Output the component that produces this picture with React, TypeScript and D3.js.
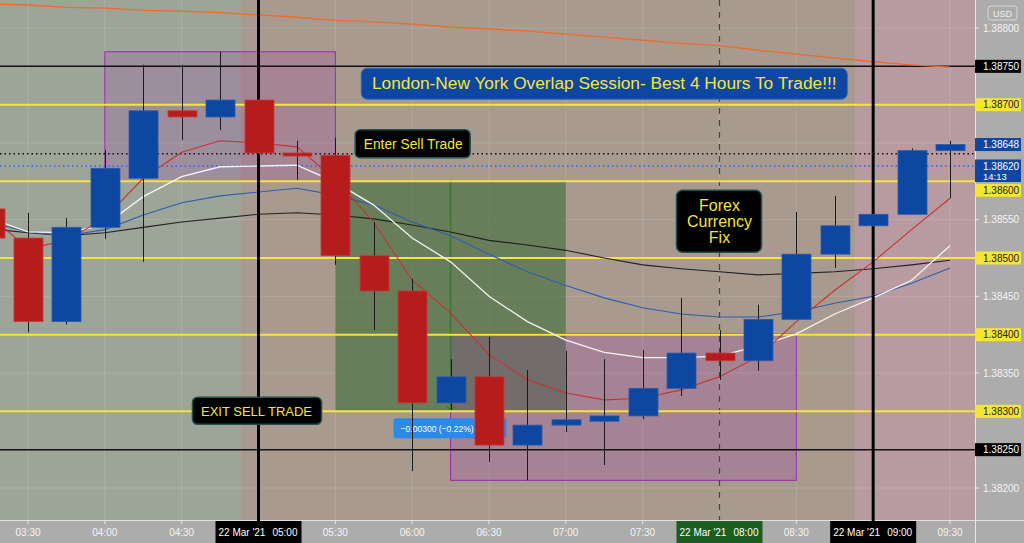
import React from 'react';
import * as d3 from 'd3';

// ---------- DATA ----------
const times = ["03:15","03:30","03:45","04:00","04:15","04:30","04:45","05:00","05:15","05:30","05:45","06:00","06:15","06:30","06:45","07:00","07:15","07:30","07:45","08:00","08:15","08:30","08:45","09:00","09:15","09:30"];
const opens  = [1.38564,1.38526,1.38417,1.38540,1.38604,1.38692,1.38684,1.38706,1.38637,1.38634,1.38503,1.38457,1.38311,1.38345,1.38256,1.38282,1.38287,1.38294,1.38330,1.38376,1.38366,1.38420,1.38505,1.38542,1.38557,1.38640];
const highs  = [1.38576,1.38559,1.38552,1.38641,1.38752,1.38752,1.38769,1.38709,1.38653,1.38657,1.38547,1.38473,1.38368,1.38397,1.38354,1.38379,1.38368,1.38380,1.38448,1.38406,1.38439,1.38560,1.38581,1.38558,1.38643,1.38653];
const lows   = [1.38521,1.38403,1.38413,1.38525,1.38495,1.38654,1.38667,1.38634,1.38602,1.38491,1.38406,1.38222,1.38302,1.38234,1.38210,1.38273,1.38230,1.38290,1.38320,1.38341,1.38353,1.38420,1.38487,1.38540,1.38557,1.38578];
const closes = [1.38526,1.38417,1.38540,1.38617,1.38692,1.38684,1.38706,1.38637,1.38633,1.38503,1.38457,1.38311,1.38345,1.38256,1.38282,1.38289,1.38294,1.38330,1.38376,1.38366,1.38420,1.38505,1.38542,1.38557,1.38640,1.38648];

const maOrange = [1.38831,1.38830,1.38827,1.38826,1.38823,1.38822,1.38820,1.38817,1.38814,1.38810,1.38808,1.38805,1.38801,1.38799,1.38796,1.38792,1.38788,1.38784,1.38780,1.38777,1.38771,1.38766,1.38761,1.38756,1.38752,1.38749];
const maBlack  = [1.38538,1.38533,1.38529,1.38533,1.38540,1.38547,1.38552,1.38557,1.38559,1.38556,1.38551,1.38543,1.38534,1.38523,1.38517,1.38510,1.38500,1.38491,1.38486,1.38482,1.38478,1.38480,1.38482,1.38486,1.38491,1.38497];
const maBlue   = [1.38547,1.38534,1.38529,1.38537,1.38556,1.38572,1.38581,1.38586,1.38591,1.38582,1.38569,1.38547,1.38529,1.38505,1.38482,1.38464,1.38448,1.38435,1.38427,1.38423,1.38423,1.38430,1.38441,1.38450,1.38467,1.38487];
const maWhite  = [1.38552,1.38534,1.38533,1.38543,1.38580,1.38606,1.38619,1.38620,1.38621,1.38599,1.38569,1.38526,1.38495,1.38450,1.38417,1.38393,1.38377,1.38370,1.38370,1.38372,1.38385,1.38401,1.38427,1.38448,1.38471,1.38516];
const maRed    = [1.38556,1.38512,1.38523,1.38552,1.38604,1.38638,1.38653,1.38650,1.38645,1.38602,1.38547,1.38471,1.38428,1.38374,1.38341,1.38324,1.38315,1.38317,1.38328,1.38345,1.38371,1.38417,1.38458,1.38495,1.38537,1.38578];

const priceTicks = [1.382,1.3825,1.383,1.3835,1.384,1.3845,1.385,1.3855,1.386,1.3865,1.387,1.3875,1.388];
const timeTicks = ["03:30","04:00","04:30","05:00","05:30","06:00","06:30","07:00","07:30","08:00","08:30","09:00","09:30"];
const dateTagTimes = ["05:00","08:00","09:00"];
const dateLabel = "22 Mar '21";

const yellowLevels = [1.387,1.386,1.385,1.384,1.383];
const blackLevels = [1.3875,1.3825];
const lastPrice = 1.38648;
const bidPrice = 1.38620;
const refPrice = 1.38636;
const countdown = "14:13";

const sessionStarts = ["03:00","04:53","08:53"];
const sessionEnds = ["04:53","08:53","09:50"];

const zoneStart = ["04:00","05:30","06:15"];
const zoneEnd = ["05:30","07:00","08:30"];
const zoneTop = [1.38769,1.38600,1.38401];
const zoneBottom = [1.38600,1.38300,1.38210];

const bannerText = "London-New York Overlap Session- Best 4 Hours To Trade!!!";
const enterText = "Enter Sell Trade";
const fixLines = ["Forex","Currency","Fix"];
const exitText = "EXIT SELL TRADE";
const measureText = "\u22120.00300 (\u22120.22%)";

// ---------- LAYOUT ----------
const W = 1024, H = 543, PW = 975, PH = 520;
const toMin = (s: string) => { const [h, m] = s.split(":").map(Number); return h * 60 + m; };

export default function App() {
  const x = d3.scaleLinear().domain([toMin("03:30"), toMin("09:30")]).range([28, 950]);
  const y = d3.scaleLinear().domain([1.382, 1.388]).range([488, 28]);
  const xt = (s: string) => x(toMin(s));
  const bw = 29;
  const font = "'Liberation Sans', Arial, sans-serif";
  const sessColors = ["#9da598", "#a89a8e", "#b89ba0"];
  const zoneFill = ["rgba(156,39,176,0.18)", "rgba(40,95,35,0.5)", "rgba(156,39,176,0.2)"];
  const zoneStroke = ["#9c27b0", "none", "#9c27b0"];
  const tagged = [...yellowLevels, ...blackLevels, 1.3865];

  const line = (vals: number[]) =>
    d3.line<number>().x((_, i) => xt(times[i])).y(v => y(v))(vals) || "";

  const tag = (v: number, bg: string, fg: string, text: string, dy = 0) => {
    const cy = y(v) + dy;
    return (
      <g key={"tag" + v + text}>
        <line x1={PW} x2={PW + 4} y1={cy} y2={cy} stroke={fg} />
        <rect x={PW} y={cy - 6.5} width={46} height={13} fill={bg} />
        <text x={983} y={cy + 3.5} fontSize={10} fill={fg} fontFamily={font}>{text}</text>
      </g>
    );
  };

  return (
    <svg width={W} height={H} style={{ position: 'fixed', left: 0, top: 0, display: 'block' }}>
      <defs>
        <clipPath id="plot"><rect x={0} y={0} width={PW} height={PH} /></clipPath>
      </defs>
      <rect x={0} y={0} width={W} height={H} fill="#acacac" />
      <g clipPath="url(#plot)">
        {sessionStarts.map((s, i) => (
          <rect key={"s" + i} x={xt(s)} y={0} width={xt(sessionEnds[i]) - xt(s)} height={PH} fill={sessColors[i]} />
        ))}
        {/* grid */}
        {timeTicks.map(t => (
          <line key={"gx" + t} x1={xt(t)} x2={xt(t)} y1={0} y2={PH} stroke="rgba(255,255,255,0.13)" />
        ))}
        {priceTicks.map(p => (
          <line key={"gy" + p} x1={0} x2={PW} y1={y(p)} y2={y(p)} stroke="rgba(255,255,255,0.13)" />
        ))}
        {/* zones */}
        {zoneStart.map((s, i) => (
          <rect key={"z" + i} x={xt(s)} y={y(zoneTop[i])} width={xt(zoneEnd[i]) - xt(s)} height={y(zoneBottom[i]) - y(zoneTop[i])}
            fill={zoneFill[i]} stroke={zoneStroke[i]} strokeWidth={1} />
        ))}
        {/* measure vertical line */}
        <line x1={xt("06:15")} x2={xt("06:15")} y1={y(1.386)} y2={y(1.383)} stroke="rgba(50,120,40,0.85)" strokeWidth={1.5} />
        <path d={`M${xt("06:15") - 4},${y(1.383) - 5} L${xt("06:15")},${y(1.383) - 1} L${xt("06:15") + 4},${y(1.383) - 5}`} fill="none" stroke="rgba(50,120,40,0.9)" strokeWidth={1.2} />
        {/* vertical lines */}
        <line x1={xt("08:00")} x2={xt("08:00")} y1={0} y2={PH} stroke="#1e5e22" strokeWidth={1.2} strokeDasharray="6,6" />
        {/* levels */}
        {yellowLevels.map(p => (
          <line key={"yl" + p} x1={0} x2={PW} y1={y(p)} y2={y(p)} stroke="#f5e43a" strokeWidth={2} />
        ))}
        {blackLevels.map(p => (
          <line key={"bl" + p} x1={0} x2={PW} y1={y(p)} y2={y(p)} stroke="#111" strokeWidth={1.5} />
        ))}
        <line x1={0} x2={PW} y1={y(refPrice)} y2={y(refPrice)} stroke="#111" strokeWidth={1.5} strokeDasharray="1.5,3" />
        <line x1={0} x2={PW} y1={y(bidPrice)} y2={y(bidPrice)} stroke="#2962ff" strokeWidth={1.5} strokeDasharray="1.5,3" />
        {/* MAs */}
        <path d={line(maOrange)} fill="none" stroke="#f06a28" strokeWidth={1.3} />
        <path d={line(maBlack)} fill="none" stroke="#222" strokeWidth={1.1} />
        <path d={line(maBlue)} fill="none" stroke="#2d5fae" strokeWidth={1.1} />
        <path d={line(maWhite)} fill="none" stroke="#f4f4f4" strokeWidth={1.3} />
        <path d={line(maRed)} fill="none" stroke="#c83232" strokeWidth={1.1} />
        {/* thick verticals */}
        {["05:00", "09:00"].map(t => (
          <line key={"v" + t} x1={xt(t)} x2={xt(t)} y1={0} y2={PH} stroke="#000" strokeWidth={3} />
        ))}
        {/* measure label (under candles) */}
        <g>
          <rect x={xt("06:15") - 57} y={y(1.38278) - 10} width={113} height={20} rx={3} fill="#2b8ae6" />
          <text x={xt("06:15") - 50} y={y(1.38278) + 3.5} fontSize={9.5} fill="#fff" fontFamily={font}
            textLength={73} lengthAdjust="spacingAndGlyphs">{measureText}</text>
        </g>
        {/* candles */}
        {times.map((t, i) => {
          const cx = Math.round(xt(t)) + 0.5;
          const up = closes[i] >= opens[i];
          const top = y(Math.max(opens[i], closes[i]));
          const bot = y(Math.min(opens[i], closes[i]));
          return (
            <g key={"c" + t}>
              <line x1={cx} x2={cx} y1={y(highs[i])} y2={y(lows[i])} stroke="#1a1a1a" strokeWidth={1} />
              <rect x={cx - bw / 2} y={top} width={bw} height={Math.max(2, bot - top)}
                fill={up ? "#0d47a1" : "#b71c1c"} stroke={up ? "#2a5db0" : "#c43a3a"} strokeWidth={0.8} />
            </g>
          );
        })}
        {/* annotations */}
        <g>
          <rect x={xt("07:15") - 243} y={y(1.38728) - 15} width={486} height={31} rx={6} fill="#0d47a1" stroke="#2a6bc0" />
          <text x={xt("07:15")} y={y(1.38728) + 6} textAnchor="middle" fontSize={17.3} fill="#f5e43a" fontFamily={font}>{bannerText}</text>
        </g>
        <g>
          <rect x={xt("06:00") - 57} y={y(1.38649) - 14} width={115} height={28} rx={5} fill="#000" stroke="#1d5050" strokeWidth={1.5} />
          <text x={xt("06:00") + 1} y={y(1.38649) + 5} textAnchor="middle" fontSize={13.8} fill="#f5e43a" fontFamily={font}>{enterText}</text>
        </g>
        <g>
          <rect x={xt("08:00") - 43} y={y(1.38548) - 31} width={85} height={62} rx={6} fill="#000" stroke="#1d5050" strokeWidth={1.5} />
          {fixLines.map((l, i) => (
            <text key={l} x={xt("08:00")} y={y(1.38548) - 10 + i * 16} textAnchor="middle" fontSize={16} fill="#f5e43a" fontFamily={font}>{l}</text>
          ))}
        </g>
        <g>
          <rect x={xt("05:00") - 66} y={y(1.383) - 14} width={129} height={27} rx={5} fill="#000" stroke="#1d5050" strokeWidth={1.5} />
          <text x={xt("05:00") - 2} y={y(1.383) + 4.5} textAnchor="middle" fontSize={13} fill="#f5e43a" fontFamily={font}>{exitText}</text>
        </g>
      </g>

      {/* right axis */}
      <line x1={PW + 0.5} x2={PW + 0.5} y1={0} y2={H} stroke="#e8e8e8" strokeWidth={1} />
      <line x1={0} x2={W} y1={PH + 0.5} y2={PH + 0.5} stroke="#e0e0e0" strokeWidth={1} />
      <rect x={988} y={6} width={29} height={14} rx={3} fill="none" stroke="#d8d8d8" />
      <text x={1002.5} y={16.5} textAnchor="middle" fontSize={9} fill="#f0f0f0" fontFamily={font}>USD</text>
      {priceTicks.filter(p => !tagged.some(q => Math.abs(q - p) < 1e-7)).map(p => (
        <g key={"pt" + p}>
          <line x1={PW} x2={PW + 4} y1={y(p)} y2={y(p)} stroke="#e8e8e8" />
          <text x={983} y={y(p) + 3.5} fontSize={10} fill="#f4f4f4" fontFamily={font}>{p.toFixed(5)}</text>
        </g>
      ))}
      {yellowLevels.map(p => tag(p, "#f5e43a", "#222", p.toFixed(5), p === 1.386 ? 9 : 0))}
      {blackLevels.map(p => tag(p, "#000", "#fff", p.toFixed(5)))}
      {tag(lastPrice, "#0d47a1", "#fff", lastPrice.toFixed(5))}
      <g>
        <rect x={PW} y={y(bidPrice) - 6.5} width={46} height={22.5} fill="#0d47a1" />
        <text x={983} y={y(bidPrice) + 3.5} fontSize={10} fill="#fff" fontFamily={font}>{bidPrice.toFixed(5)}</text>
        <text x={983} y={y(bidPrice) + 13.5} fontSize={9.5} fill="#fff" fontFamily={font}>{countdown}</text>
      </g>

      {/* bottom axis */}
      {timeTicks.filter(t => !dateTagTimes.includes(t)).map(t => (
        <g key={"tt" + t}>
          <line x1={xt(t)} x2={xt(t)} y1={PH} y2={PH + 4} stroke="#e8e8e8" />
          <text x={xt(t)} y={536} textAnchor="middle" fontSize={10} fill="#f4f4f4" fontFamily={font}>{t}</text>
        </g>
      ))}
      {dateTagTimes.map(t => (
        <g key={"dt" + t}>
          <rect x={xt(t) - 43} y={PH + 1} width={86} height={22} fill={t === "08:00" ? "#1b5e20" : "#000"} />
          <text x={xt(t) - 40} y={536} fontSize={10} fill="#fff" fontFamily={font}>{dateLabel}</text>
          <text x={xt(t) + 39} y={536} textAnchor="end" fontSize={10} fill="#fff" fontFamily={font}>{t}</text>
        </g>
      ))}
      <line x1={xt("05:00")} x2={xt("05:00")} y1={PH} y2={PH + 5} stroke="#000" strokeWidth={3} />
      <line x1={xt("09:00")} x2={xt("09:00")} y1={PH} y2={PH + 5} stroke="#000" strokeWidth={3} />
    </svg>
  );
}
